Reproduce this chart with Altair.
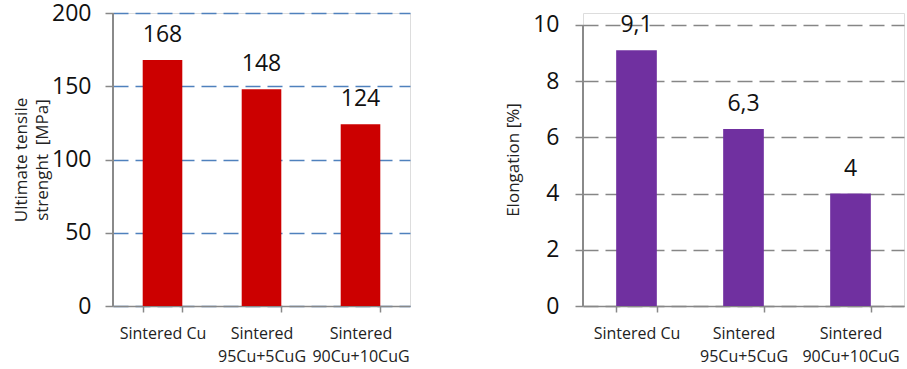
import altair as alt
import pandas as pd

# Sample names shared by both panels
samples = ["Sintered Cu", "Sintered\n95Cu+5CuG", "Sintered\n90Cu+10CuG"]

# Measured properties
uts_mpa = [168, 148, 124]
elongation_pct = [9.1, 6.3, 4.0]

# Axis ticks
uts_ticks = [0, 50, 100, 150, 200]
elong_ticks = [0, 2, 4, 6, 8, 10]

FONT = "Open Sans"
AXIS_GREY = "#888888"


def fmt_comma(v):
    return f"{v:g}".replace(".", ",")


uts_df = pd.DataFrame({"sample": samples, "value": uts_mpa,
                       "label": [fmt_comma(v) for v in uts_mpa]})
el_df = pd.DataFrame({"sample": samples, "value": elongation_pct,
                      "label": [fmt_comma(v) for v in elongation_pct]})


def panel(df, color, ticks, y_max, title, grid_color, width, height,
          p_inner, label_pad, title_pad):
    x = alt.X(
        "sample:N",
        sort=samples,
        scale=alt.Scale(paddingInner=p_inner, paddingOuter=p_inner / 2),
        axis=alt.Axis(
            title=None,
            labelAngle=0,
            labelExpr="isValid(datum.value) ? split(datum.value, '\\n') : ''",
            labelFont=FONT,
            labelFontSize=16,
            labelColor="#222222",
            labelBaseline="top",
            labelPadding=13,
            labelLineHeight=23,
            tickBand="extent",
            tickSize=6,
            tickColor=AXIS_GREY,
            tickWidth=1.5,
            domainColor=AXIS_GREY,
            domainWidth=1.5,
            grid=False,
        ),
    )
    y = alt.Y(
        "value:Q",
        scale=alt.Scale(domain=[ticks[0], y_max], nice=False),
        axis=alt.Axis(
            title=title,
            values=ticks,
            format="d",
            labelFont=FONT,
            labelFontSize=23,
            labelColor="#111111",
            labelPadding=label_pad,
            tickSize=8,
            tickColor=AXIS_GREY,
            tickWidth=1.5,
            domain=False,
            grid=True,
            gridColor=grid_color,
            gridDash=[15, 7],
            gridWidth=1.6,
            titleFont=FONT,
            titleFontSize=17,
            titleFontWeight="normal",
            titleColor="#222222",
            titleLineHeight=21,
            titlePadding=title_pad,
        ),
    )
    bars = alt.Chart(df).mark_bar(color=color).encode(x=x, y=y)
    labels = alt.Chart(df).mark_text(
        font=FONT, fontSize=23, color="#111111", baseline="alphabetic", dy=-18
    ).encode(x=alt.X("sample:N", sort=samples), y="value:Q", text="label:N")
    # vertical axis line running from the first to the last tick
    axis_line = alt.Chart(df).mark_rule(color=AXIS_GREY, strokeWidth=1.5).encode(
        x=alt.value(0), y=alt.datum(ticks[0]), y2=alt.datum(ticks[-1])
    )
    return alt.layer(bars, labels, axis_line).properties(width=width, height=height)


left = panel(uts_df, "#CC0000", uts_ticks, 200,
             ["Ultimate tensile", "strenght \u00a0[MPa]"], "#4F81BD",
             297, 293, 0.6, 14, 0)
right = panel(el_df, "#7030A0", elong_ticks, 10.427, "Elongation [%]",
              "#868686", 321, 293, 0.62, 16, 10)

chart = alt.hconcat(left, right, spacing=93).properties(
    padding={"left": 12, "top": 1, "right": 0, "bottom": 0}
).configure_view(stroke=None).configure(background="white")

chart.save("out.html", embed_options={"renderer": "svg", "actions": False})
